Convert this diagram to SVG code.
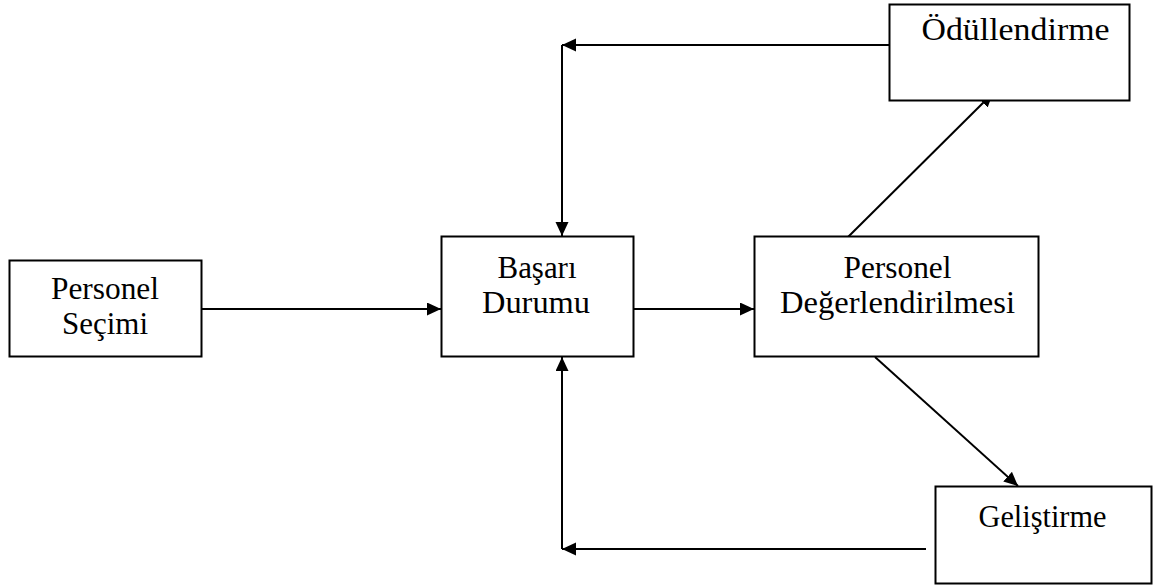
<svg xmlns="http://www.w3.org/2000/svg" width="1159" height="585" viewBox="0 0 1159 585">
  <style>
    .box { fill: #ffffff; stroke: #000000; stroke-width: 2; }
    .lbl { font-family: "Liberation Serif", "Times New Roman", serif; font-size: 32px; fill: #000000; text-anchor: middle; }
    .wire { fill: none; stroke: #000000; stroke-width: 2; }
    .arrow { marker-end: url(#head); }
  </style>
  <defs>
    <marker id="head" markerUnits="userSpaceOnUse" markerWidth="15" markerHeight="14" refX="14" refY="6.5" orient="auto">
      <path d="M0,0 L14,6.5 L0,13 Z" fill="#000000"/>
    </marker>
  </defs>

  <rect width="1159" height="585" fill="#ffffff"/>

  <g id="connectors">
    <line class="wire arrow" x1="202" y1="309" x2="441" y2="309"/>
    <line class="wire arrow" x1="634" y1="309" x2="754" y2="309"/>
    <line class="wire arrow" x1="848" y1="237" x2="993" y2="93"/>
    <line class="wire arrow" x1="889" y1="45" x2="562" y2="45"/>
    <line class="wire arrow" x1="562" y1="45" x2="562" y2="236"/>
    <line class="wire arrow" x1="875" y1="357" x2="1018" y2="486"/>
    <line class="wire arrow" x1="926" y1="549" x2="562" y2="549"/>
    <line class="wire arrow" x1="562" y1="549" x2="562" y2="357"/>
  </g>

  <g id="personel-secimi">
    <rect class="box" x="9.5" y="260.5" width="192" height="96"/>
    <text class="lbl" x="105" y="299" textLength="108" lengthAdjust="spacingAndGlyphs">Personel</text>
    <text class="lbl" x="105" y="334" textLength="86" lengthAdjust="spacingAndGlyphs">Seçimi</text>
  </g>

  <g id="basari-durumu">
    <rect class="box" x="441.5" y="236.5" width="192" height="120"/>
    <text class="lbl" x="537" y="278" textLength="79" lengthAdjust="spacingAndGlyphs">Başarı</text>
    <text class="lbl" x="536" y="313" textLength="108" lengthAdjust="spacingAndGlyphs">Durumu</text>
  </g>

  <g id="personel-degerlendirilmesi">
    <rect class="box" x="754.5" y="236.5" width="284" height="120"/>
    <text class="lbl" x="897.5" y="278" textLength="108" lengthAdjust="spacingAndGlyphs">Personel</text>
    <text class="lbl" x="897.5" y="313" textLength="235" lengthAdjust="spacingAndGlyphs">Değerlendirilmesi</text>
  </g>

  <g id="odullendirme">
    <rect class="box" x="889.5" y="4.5" width="240" height="96"/>
    <text class="lbl" x="1015.5" y="40" textLength="188" lengthAdjust="spacingAndGlyphs">Ödüllendirme</text>
  </g>

  <g id="gelistirme">
    <rect class="box" x="935.5" y="486.5" width="216" height="97"/>
    <text class="lbl" x="1042.5" y="527" textLength="128" lengthAdjust="spacingAndGlyphs">Geliştirme</text>
  </g>
</svg>
